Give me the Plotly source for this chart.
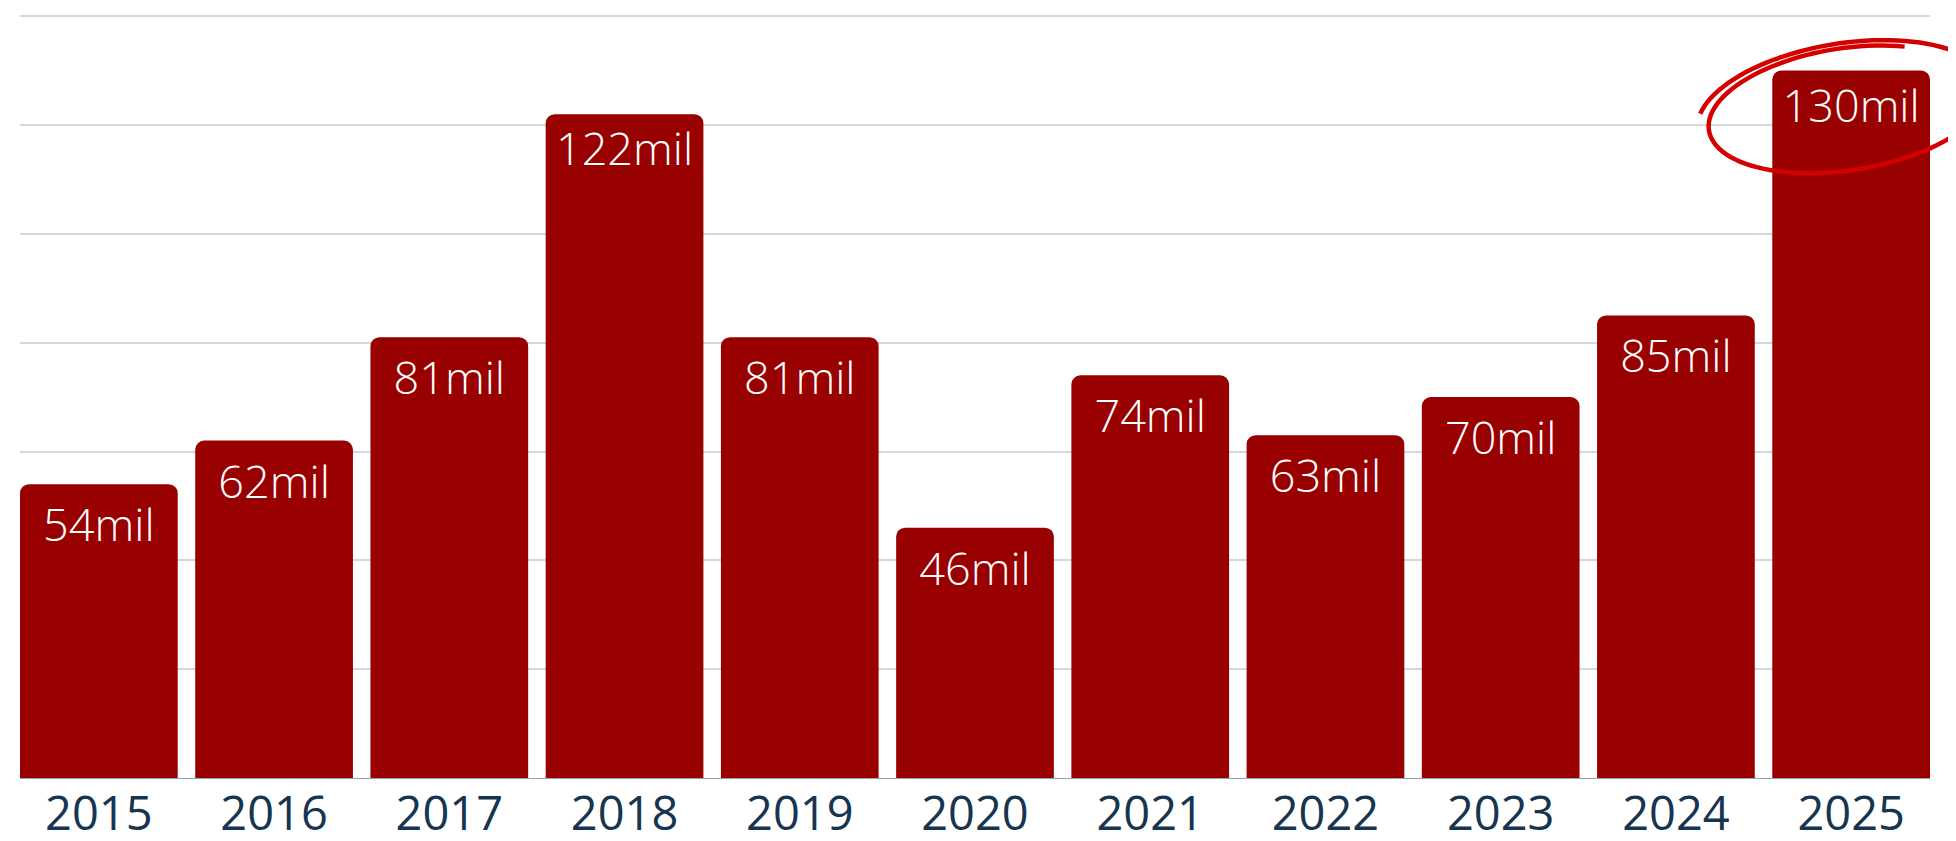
import math
import plotly.graph_objects as go

years = ["2015", "2016", "2017", "2018", "2019", "2020", "2021", "2022", "2023", "2024", "2025"]
values = [54, 62, 81, 122, 81, 46, 74, 63, 70, 85, 130]
label_suffix = "mil"

W, H = 1956, 841
OFF = 8  # default page body margin
L, R, T, B = 12, 34, 6, 71
FONT = "Open Sans"

fig = go.Figure(go.Bar(
    x=years, y=values,
    marker=dict(color="#990000", cornerradius=9, line=dict(width=0)),
    texttemplate="%{y}" + label_suffix,
    textposition="inside", insidetextanchor="end", textangle=0,
    constraintext="none",
    insidetextfont=dict(color="white", size=45, family=FONT, weight=300),
    hoverinfo="skip",
))

# hand-drawn style circle around the last bar's label (decoration, page px -> paper)
pw, ph = W - L - R, H - T - B
def to_paper(px, py):
    return (px - OFF - L) / pw, (H - B - (py - OFF)) / ph

def loop_path(cx, cy, rx, ry, rot, t0, t1, shrink, n=140):
    pts = []
    for i in range(n + 1):
        t = t0 + (t1 - t0) * i / n
        k = 1 - shrink * i / n
        ex, ey = rx * k * math.cos(t), ry * k * math.sin(t)
        px = cx + ex * math.cos(rot) - ey * math.sin(rot)
        py = cy + ex * math.sin(rot) + ey * math.cos(rot)
        pts.append(to_paper(px, py))
    return "M " + " L ".join(f"{x:.5f},{y:.5f}" for x, y in pts)

path1 = loop_path(1846, 108, 150, 66, math.radians(-9), math.radians(195), math.radians(195 + 360 + 105), 0.1)
fig.add_shape(type="path", path=path1, xref="paper", yref="paper",
              line=dict(color="#d40000", width=4.5))

fig.update_layout(
    width=W, height=H,
    margin=dict(l=L, r=R, t=T, b=B, autoexpand=False),
    paper_bgcolor="white", plot_bgcolor="white",
    bargap=0.1, showlegend=False,
    xaxis=dict(range=[-0.45, 10.45], showline=True, linecolor="#8ca3b8", linewidth=1,
               ticks="", tickfont=dict(size=47, color="#163550", family=FONT, weight=400),
               ticklabelstandoff=-5,
               showgrid=False, fixedrange=True, automargin=False),
    yaxis=dict(range=[0, 140.4], dtick=20, showticklabels=False, showgrid=True,
               gridcolor="#d3d8de", gridwidth=1.5, zeroline=False, fixedrange=True,
               automargin=False),
)
fig.write_html("out.html")
